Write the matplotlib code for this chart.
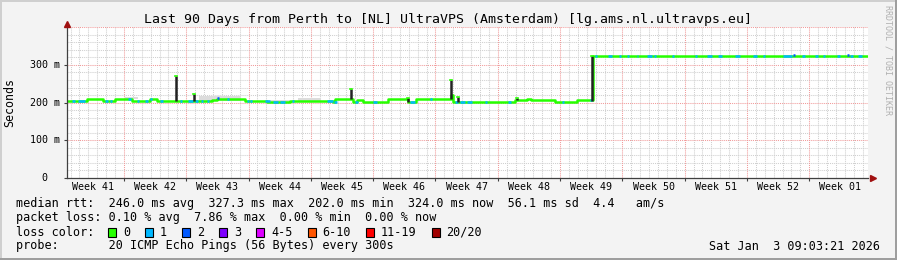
import numpy as np
import matplotlib
matplotlib.use('Agg')
import matplotlib.pyplot as plt
from matplotlib.patches import Rectangle
from matplotlib import transforms

# ---------------- data ----------------
week_labels = ["Week 41", "Week 42", "Week 43", "Week 44", "Week 45", "Week 46", "Week 47",
               "Week 48", "Week 49", "Week 50", "Week 51", "Week 52", "Week 01"]
first_week_line_day = 6.4      # first major (week) grid line, days after graph start
first_label_day = 2.9          # centre of first week label
total_days = 90.0

# median rtt, piecewise constant: segment start (days) and value (ms)
seg_start_day = [0.0, 2.2, 4.0, 5.4, 7.3, 9.3, 10.1, 16.3, 16.5, 16.9, 20.0, 22.5, 25.1, 29.9,
                 30.1, 32.1, 32.6, 33.3, 36.1, 38.3, 39.2, 43.1, 43.4, 50.3, 51.7, 52.1, 54.8,
                 57.3, 59.1]
seg_median_ms = [204, 210, 203, 210, 203, 209, 203, 206, 208, 210, 203, 201, 203, 202,
                 210, 202, 208, 202, 210, 202, 210, 220, 202, 206, 209, 206, 202,
                 206, 324]

# dense smoke spikes (dark): day, low, high (ms)
spike_day = [12.2, 14.3, 31.9, 38.3, 43.1, 43.9, 50.6, 59.0]
spike_low_ms = [203, 203, 210, 202, 210, 202, 206, 205]
spike_high_ms = [270, 222, 235, 212, 260, 216, 211, 324]

# light smoke areas
smoke_start_day = [6.5, 14.8, 22.5, 26.0]
smoke_end_day = [8.0, 19.5, 25.1, 28.5]
smoke_top_ms = [216, 218, 207, 213]

# loss = 1 specks on the median line (days)
loss1_start = [0.6, 1.2, 4.3, 4.8, 6.9, 7.9, 8.8, 9.3, 10.4, 12.7, 13.6, 14.4, 15.0, 15.7, 18.0,
               20.2, 20.6, 22.2, 23.1, 23.9, 25.3, 29.2, 30.0, 32.4, 34.4, 38.5, 40.8, 43.6,
               44.2, 44.9, 47.0, 49.5, 55.6, 58.8, 59.3, 60.8, 62.0, 62.9, 64.0, 65.2, 66.0,
               68.0, 70.6, 71.9, 73.1, 75.1, 77.1, 78.2, 80.4, 82.6, 84.0, 84.9, 86.5, 88.0,
               88.9]
loss1_end = [0.9, 2.0, 4.6, 5.0, 7.2, 8.1, 9.1, 9.6, 10.8, 12.9, 14.2, 14.7, 15.3, 15.9, 18.2,
             20.4, 20.8, 22.8, 23.7, 24.5, 25.5, 29.9, 30.3, 32.7, 34.8, 39.1, 41.0, 43.9,
             44.7, 45.5, 47.2, 49.9, 55.8, 59.0, 59.6, 61.2, 62.2, 63.1, 64.2, 65.7, 66.2,
             68.2, 70.8, 72.5, 73.6, 75.6, 77.5, 78.4, 81.5, 82.9, 84.4, 85.2, 86.9, 88.3,
             89.3]
# loss = 2 specks
loss2_start = [16.9, 81.6, 87.6]
loss2_end = [17.1, 81.8, 87.9]

y_ticks = [0, 100, 200, 300]
y_tick_labels = ["0", "100 m", "200 m", "300 m"]
y_max = 400

loss_labels = ["0", "1", "2", "3", "4-5", "6-10", "11-19", "20/20"]
loss_colors = ["#26ff00", "#00b8ff", "#0059ff", "#7e00ff", "#dd00ff", "#ff5500", "#ff0000", "#a10000"]

title = "Last 90 Days from Perth to [NL] UltraVPS (Amsterdam) [lg.ams.nl.ultravps.eu]"
line_rtt = "median rtt:  246.0 ms avg  327.3 ms max  202.0 ms min  324.0 ms now  56.1 ms sd  4.4   am/s"
line_loss = "packet loss: 0.10 % avg  7.86 % max  0.00 % min  0.00 % now"
line_probe = "probe:       20 ICMP Echo Pings (56 Bytes) every 300s"
stamp = "Sat Jan  3 09:03:21 2026"
side_text = "RRDTOOL / TOBI OETIKER"

# ---------------- figure ----------------
W, H = 897, 260
MONO = "DejaVu Sans Mono"
LW = 1.8
fig = plt.figure(figsize=(W / 100, H / 100), dpi=100, facecolor="#f3f3f3")

def fx(px):
    return px / W

def fy(py):
    return 1 - py / H

ax = fig.add_axes([fx(67), fy(178), fx(868) - fx(67), fy(27.2) - fy(178)])
ax.set_facecolor("white")
ax.set_xlim(0, total_days)
ax.set_ylim(0, y_max)

# grid
minor_days = np.arange(first_week_line_day - 6, total_days, 1.0)
major_days = np.arange(first_week_line_day, total_days, 7.0)
for d in minor_days:
    if np.min(np.abs(major_days - d)) > 0.01:
        ax.axvline(d, color="#cfcfcf", lw=0.75, ls=(0, (1, 1)), zorder=0)
for yv in np.arange(20, y_max + 1, 20):
    if yv % 100 != 0:
        ax.axhline(yv, color="#cfcfcf", lw=0.75, ls=(0, (1, 1)), zorder=0)
for d in major_days:
    ax.axvline(d, color="#f19a9a", lw=0.75, ls=(0, (1, 1)), zorder=0.5)
for yv in y_ticks[1:] + [y_max]:
    ax.axhline(yv, color="#f19a9a", lw=0.75, ls=(0, (1, 1)), zorder=0.5)

# light smoke
for s, e, t in zip(smoke_start_day, smoke_end_day, smoke_top_ms):
    i = np.searchsorted(seg_start_day, s, side="right") - 1
    ax.fill_between([s, e], [seg_median_ms[i]] * 2, [t] * 2, color="#dcdcdc", lw=0, zorder=1)

# median line
xs = list(seg_start_day) + [total_days]
ys = list(seg_median_ms) + [seg_median_ms[-1]]
ax.step(xs, ys, where="post", color=loss_colors[0], lw=LW, zorder=2, solid_capstyle="butt")

def median_at(d):
    i = np.searchsorted(seg_start_day, d, side="right") - 1
    return seg_median_ms[max(i, 0)]

for s, e in zip(loss1_start, loss1_end):
    m = median_at(s)
    ax.plot([s, e], [m, m], color=loss_colors[1], lw=LW, zorder=3, solid_capstyle="butt")
for s, e in zip(loss2_start, loss2_end):
    m = median_at(s)
    ax.plot([s, e], [m + 1.5, m + 1.5], color=loss_colors[2], lw=LW, zorder=3, solid_capstyle="butt")

# dense smoke spikes
for d, lo, hi in zip(spike_day, spike_low_ms, spike_high_ms):
    ax.plot([d, d], [lo, hi], color="#222222", lw=1.8, zorder=4, solid_capstyle="butt")
    ax.plot([d - 0.12, d + 0.12], [hi, hi], color=loss_colors[0], lw=1.2, zorder=4)

# axes / spines
for sp in ["top", "right"]:
    ax.spines[sp].set_visible(False)
for sp in ["left", "bottom"]:
    ax.spines[sp].set_color("#404040")
    ax.spines[sp].set_linewidth(0.9)
ax.set_xticks(major_days)
ax.set_xticklabels([])
ax.set_yticks(y_ticks)
ax.set_yticklabels([])
ax.tick_params(axis="both", direction="out", length=2.5, width=0.8, color="#404040")

# arrows
ax.plot([0], [1.0 + 3 / 151], marker="^", ms=5, color="#a01010", transform=ax.transAxes, clip_on=False, zorder=6)
ax.plot([1.0 + 5 / 801], [0], marker=">", ms=5, color="#a01010", transform=ax.transAxes, clip_on=False, zorder=6)

# tick labels
tx = transforms.blended_transform_factory(ax.transData, fig.transFigure)
for k, lab in enumerate(week_labels):
    ax.text(first_label_day + 7 * k, fy(187), lab, transform=tx, ha="center", va="center",
            fontsize=7.2, family=MONO, color="black")
ty = transforms.blended_transform_factory(fig.transFigure, ax.transData)
for v, lab in zip(y_ticks, y_tick_labels):
    xr = fx(47.5) if lab == "0" else fx(60)
    ax.text(xr, v, lab, transform=ty, ha="right", va="center", fontsize=7.2, family=MONO, color="black")

fig.text(fx(10), fy(102.5), "Seconds", rotation=90, ha="center", va="center", fontsize=8.4, family=MONO)

# title
fig.text(fx(447.5), fy(19), title, ha="center", va="center", fontsize=9.5, family=MONO)
# side text
fig.text(fx(888), fy(60), side_text, rotation=270, ha="center", va="center", fontsize=6, family=MONO, color="#b0b0b0")

# legend text
fig.text(fx(16), fy(204), line_rtt, ha="left", va="center", fontsize=8.5, family=MONO)
fig.text(fx(16), fy(218), line_loss, ha="left", va="center", fontsize=8.5, family=MONO)
fig.text(fx(16), fy(232), "loss color:", ha="left", va="center", fontsize=8.5, family=MONO)
fig.text(fx(16), fy(246), line_probe, ha="left", va="center", fontsize=8.5, family=MONO)
fig.text(fx(880), fy(246), stamp, ha="right", va="center", fontsize=8.5, family=MONO)

char_w = 7.1
bx = 108.0
for lab, col in zip(loss_labels, loss_colors):
    fig.patches.append(Rectangle((fx(bx), fy(236.5)), fx(8), 9 / H, transform=fig.transFigure,
                                 facecolor=col, edgecolor="black", lw=0.8))
    fig.text(fx(bx + 15), fy(232), lab, ha="left", va="center", fontsize=8.5, family=MONO)
    bx = bx + 15 + char_w * len(lab) + 15

# frame shading
fig.patches.append(Rectangle((0, 1 - 2 / H), 1, 2 / H, transform=fig.transFigure, color="#cfcfcf", lw=0))
fig.patches.append(Rectangle((0, 0), 2 / W, 1, transform=fig.transFigure, color="#cfcfcf", lw=0))
fig.patches.append(Rectangle((0, 0), 1, 2.5 / H, transform=fig.transFigure, color="#9e9e9e", lw=0))
fig.patches.append(Rectangle((1 - 2.5 / W, 0), 2.5 / W, 1, transform=fig.transFigure, color="#9e9e9e", lw=0))

fig.savefig("out.png", dpi=100, facecolor=fig.get_facecolor())
